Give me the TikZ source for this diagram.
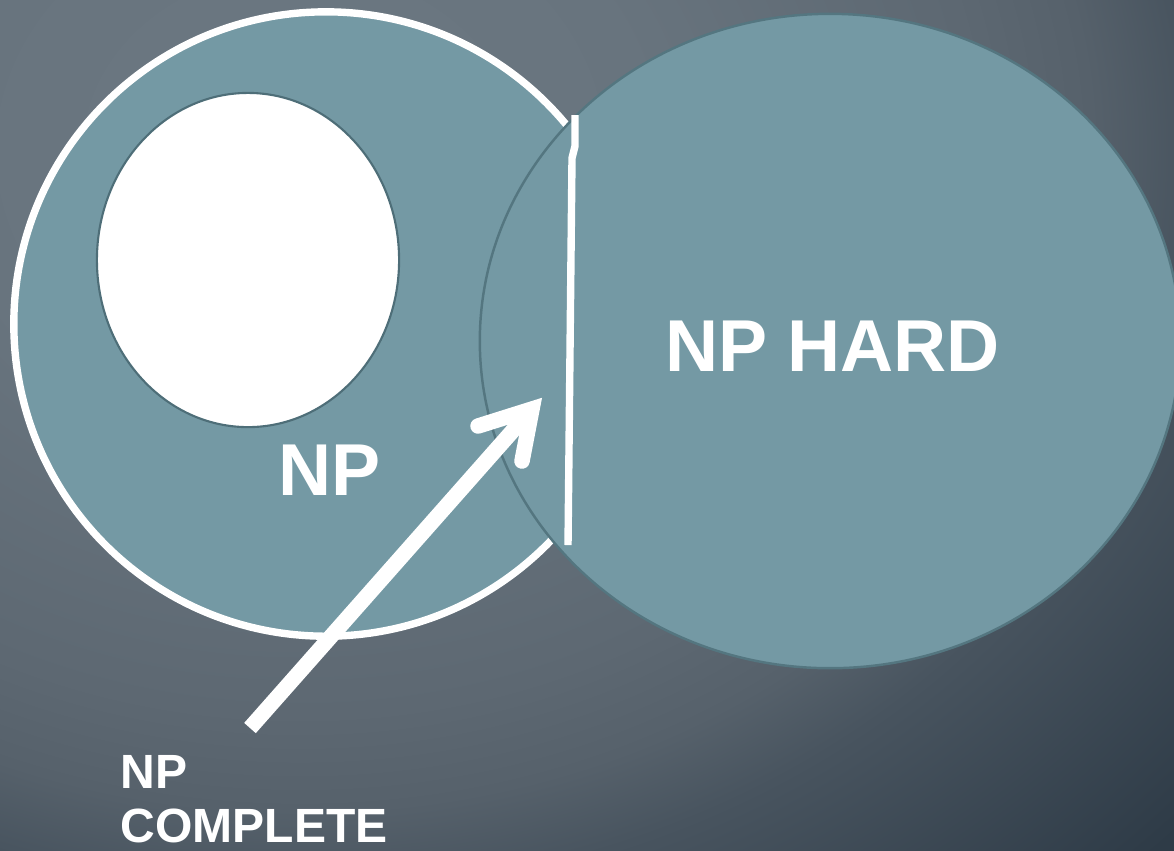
\documentclass[tikz,border=0pt]{standalone}
\usepackage{fontspec}
\setmainfont{Liberation Sans}
\usetikzlibrary{shapes.geometric}
\definecolor{setfill}{RGB}{116,153,164}
\definecolor{setedge}{RGB}{84,118,128}
\definecolor{inneredge}{RGB}{78,110,120}
\definecolor{bgA}{RGB}{108,120,130}
\definecolor{bgB}{RGB}{104,116,126}
\definecolor{bgC}{RGB}{93,104,114}
\definecolor{bgD}{RGB}{86,97,107}
\definecolor{bgE}{RGB}{72,84,95}
\definecolor{bgF}{RGB}{46,59,71}
\pgfdeclareradialshading{bgshade}{\pgfpoint{0bp}{0bp}}{color(0bp)=(bgA); color(3.625bp)=(bgB); color(7.05bp)=(bgC); color(8.25bp)=(bgD); color(9.3bp)=(bgE); color(12.5bp)=(bgF); color(50bp)=(bgF)}
\tikzset{
  setshape/.style={ellipse, fill=setfill, inner sep=0pt, outer sep=0pt},
  bigtext/.style={text=white, inner sep=0pt, font=\bfseries\fontsize{20.9}{24}\selectfont},
  smalltext/.style={text=white, inner sep=0pt, align=left, font=\bfseries\fontsize{13.66}{15.3}\selectfont},
  whiteline/.style={draw=white, line width=2.1pt},
  arrowline/.style={draw=white, line width=4.4pt}
}
\begin{document}
\begin{tikzpicture}[x=0.01cm,y=-0.01cm]
\useasboundingbox (0,0) rectangle (1174,850);
\begin{scope}
  \clip (0,0) rectangle (1174,850);
  \fill[bgF] (0,0) rectangle (1174,850);
  \shade[shading=bgshade] (300,150) ellipse [x radius=2400, y radius=2000];
\end{scope}
% NP set
\node[setshape, draw=white, line width=2.1pt, minimum width=6.24cm, minimum height=6.24cm] (np) at (326,324) {};
% inner white set
\node[ellipse, fill=white, draw=inneredge, line width=0.6pt, inner sep=0pt, minimum width=3.02cm, minimum height=3.34cm] (p) at (248,260) {};
% NP hard set
\node[setshape, draw=setedge, line width=0.7pt, minimum width=7.0cm, minimum height=6.54cm] (nphard) at (830,341) {};
% dividing line
\coordinate (divtop) at (575,115);
\coordinate (divbot) at (568,545);
\draw[whiteline] (divtop) -- (575,146) -- (572,158) -- (divbot);
% arrow
\coordinate (arrowstart) at (250,728);
\coordinate (arrowtip) at (532,409);
\draw[arrowline] (arrowstart) -- (arrowtip);
\draw[arrowline, line cap=round, line join=miter] (478,426) -- (arrowtip) -- (522,461);
% labels
\node[bigtext, anchor=base] (nplabel) at (329.5,495) {NP};
\node[bigtext, anchor=base] (nphardlabel) at (832.5,371) {NP HARD};
\node[smalltext, anchor=base west] (npclabel) at (120,842) {NP\\COMPLETE};
\end{tikzpicture}
\end{document}
